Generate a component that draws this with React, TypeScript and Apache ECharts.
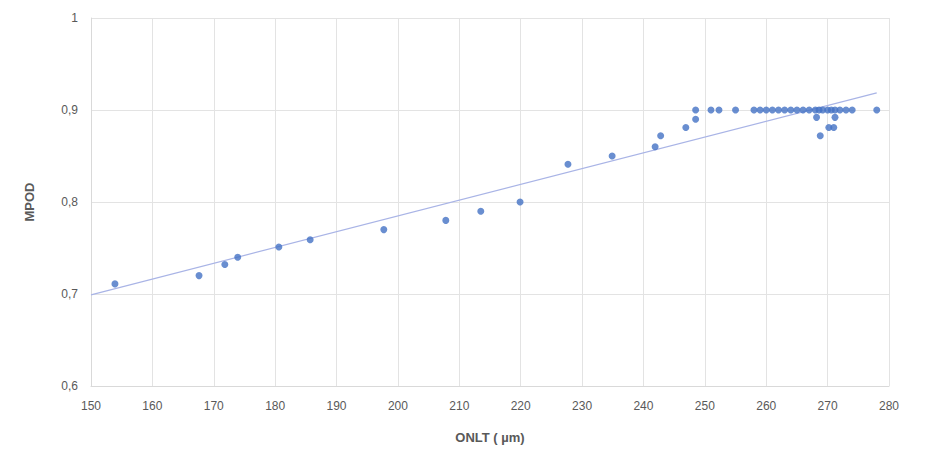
import React, { useEffect, useRef } from "react";
import * as echarts from "echarts";

const onlt: number[] = [
  153.9, 167.6, 171.8, 173.9, 180.6, 185.7, 197.7, 207.8, 213.5, 219.9,
  227.7, 234.9, 241.9, 242.8, 246.9, 248.5, 248.5, 251, 252.3, 255,
  258, 259, 260, 261, 262, 263, 264, 265, 266, 267, 268, 268.6, 269.2,
  270, 270.6, 271.2, 272, 273, 274, 268.2, 271.2, 268.8, 270.2, 271, 278,
];
const mpod: number[] = [
  0.711, 0.72, 0.732, 0.74, 0.751, 0.759, 0.77, 0.78, 0.79, 0.8,
  0.841, 0.85, 0.86, 0.872, 0.881, 0.89, 0.9, 0.9, 0.9, 0.9,
  0.9, 0.9, 0.9, 0.9, 0.9, 0.9, 0.9, 0.9, 0.9, 0.9, 0.9, 0.9, 0.9,
  0.9, 0.9, 0.9, 0.9, 0.9, 0.9, 0.892, 0.892, 0.872, 0.881, 0.881, 0.9,
];
const xTicks = { min: 150, max: 280, interval: 10 };
const yTicks = { min: 0.6, max: 1, interval: 0.1 };

function regression(xs: number[], ys: number[]) {
  const n = xs.length;
  const mx = xs.reduce((a, b) => a + b, 0) / n;
  const my = ys.reduce((a, b) => a + b, 0) / n;
  let sxy = 0, sxx = 0;
  for (let i = 0; i < n; i++) {
    sxy += (xs[i] - mx) * (ys[i] - my);
    sxx += (xs[i] - mx) * (xs[i] - mx);
  }
  const b = sxy / sxx;
  return { a: my - b * mx, b };
}

export default function App() {
  const ref = useRef<HTMLDivElement>(null);
  useEffect(() => {
    if (!ref.current) return;
    const chart = echarts.init(ref.current, undefined, { renderer: "svg" });
    const { a, b } = regression(onlt, mpod);
    const x0 = 150;
    const x1 = Math.max(...onlt);
    chart.setOption({
      animation: false,
      grid: { left: 83, right: 31, top: 10, bottom: 61 },
      xAxis: {
        type: "value",
        min: xTicks.min,
        max: xTicks.max,
        interval: xTicks.interval,
        name: "ONLT ( µm)",
        nameLocation: "middle",
        nameGap: 45,
        nameTextStyle: { color: "#595959", fontSize: 13, fontWeight: "bold", fontFamily: "Liberation Sans" },
        axisLine: { show: true, lineStyle: { color: "#d9d9d9" } },
        axisTick: { show: false },
        axisLabel: { color: "#595959", fontSize: 12, fontFamily: "Liberation Sans", margin: 14 },
        splitLine: { show: true, lineStyle: { color: "#e3e3e3" } },
      },
      yAxis: {
        type: "value",
        min: yTicks.min,
        max: yTicks.max,
        interval: yTicks.interval,
        name: "MPOD",
        nameLocation: "middle",
        nameGap: 55,
        nameTextStyle: { color: "#595959", fontSize: 13, fontWeight: "bold", fontFamily: "Liberation Sans" },
        axisLine: { show: true, lineStyle: { color: "#d9d9d9" } },
        axisTick: { show: false },
        axisLabel: {
          color: "#595959",
          fontSize: 12,
          fontFamily: "Liberation Sans",
          margin: 13,
          formatter: (v: number) => (v === 1 ? "1" : v.toFixed(1).replace(".", ",")),
        },
        splitLine: { show: true, lineStyle: { color: "#e3e3e3" } },
      },
      series: [
        {
          type: "line",
          data: [
            [x0, a + b * x0],
            [x1, a + b * x1],
          ],
          showSymbol: false,
          symbol: "none",
          lineStyle: { color: "#a9b4e6", width: 1.2 },
          z: 1,
        },
        {
          type: "scatter",
          data: onlt.map((x, i) => [x, mpod[i]]),
          symbolSize: 7,
          itemStyle: { color: "#4472c4" },
          z: 2,
        },
      ],
    });
    return () => chart.dispose();
  }, []);
  return <div ref={ref} style={{ width: 912, height: 441 }} />;
}
